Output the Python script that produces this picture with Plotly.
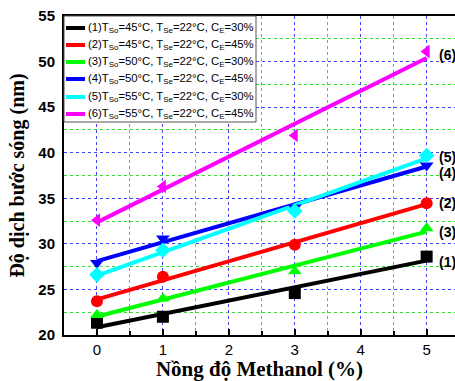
import numpy as np
import plotly.graph_objects as go

methanol = [0, 1, 3, 5]
s1 = [21.35, 22.0, 24.6, 28.6]
s2 = [23.7, 26.4, 29.9, 34.45]
s3 = [22.2, 24.0, 27.0, 31.7]
s4 = [27.9, 30.6, 34.0, 38.6]
s5 = [26.6, 29.3, 33.6, 39.7]
s6 = [32.6, 36.3, 41.9, 51.1]
series = [s1, s2, s3, s4, s5, s6]
names = [
    "(1)T<sub>So</sub>=45°C, T<sub>Se</sub>=22°C, C<sub>E</sub>=30%",
    "(2)T<sub>So</sub>=45°C, T<sub>Se</sub>=22°C, C<sub>E</sub>=45%",
    "(3)T<sub>So</sub>=50°C, T<sub>Se</sub>=22°C, C<sub>E</sub>=30%",
    "(4)T<sub>So</sub>=50°C, T<sub>Se</sub>=22°C, C<sub>E</sub>=45%",
    "(5)T<sub>So</sub>=55°C, T<sub>Se</sub>=22°C, C<sub>E</sub>=30%",
    "(6)T<sub>So</sub>=55°C, T<sub>Se</sub>=22°C, C<sub>E</sub>=45%",
]
tags = ["(1)", "(2)", "(3)", "(4)", "(5)", "(6)"]
tag_y = [28.0, 34.5, 31.3, 37.8, 39.5, 50.7]
colors = ["#000000", "#FF0000", "#00FF00", "#0000FF", "#00FFFF", "#FF00FF"]
symbols = ["square", "circle", "triangle-up", "triangle-down", "diamond", "triangle-left"]

W, H = 455, 381
ML, MR, MT, MB = 64, 0, 16, 46
PW, PH = W - ML - MR, H - MT - MB


def px(xp):
    return (xp - ML) / PW


def py(yp):
    return (H - MB - yp) / PH


fig = go.Figure()
for ys, nm, c in zip(series, names, colors):
    k, b = np.polyfit(methanol, ys, 1)
    xf = [methanol[0], methanol[-1]]
    fig.add_trace(go.Scatter(x=xf, y=[k * x + b for x in xf], mode="lines",
                             line=dict(color=c, width=4), name=nm, showlegend=False))
for ys, c, sym in zip(series, colors, symbols):
    fig.add_trace(go.Scatter(x=methanol, y=ys, mode="markers", showlegend=False,
                             marker=dict(symbol=sym, color=c, size=12)))

for t, ty in zip(tags, tag_y):
    fig.add_annotation(x=5.15, y=ty, text="<b>%s</b>" % t, showarrow=False, xanchor="left",
                       font=dict(family="Liberation Sans, Arial", size=14, color="black"))

# legend box (drawn manually)
fig.add_shape(type="rect", xref="paper", yref="paper", x0=px(64), x1=px(256), y0=py(122), y1=py(16),
              fillcolor="white", line=dict(color="#555555", width=1), layer="above")
row_y = [28, 45, 62, 79, 97, 114]
for ry, nm, c in zip(row_y, names, colors):
    fig.add_shape(type="line", xref="paper", yref="paper", x0=px(66), x1=px(85), y0=py(ry), y1=py(ry),
                  line=dict(color=c, width=4), layer="above")
    fig.add_annotation(xref="paper", yref="paper", x=px(86), y=py(ry), text=nm, showarrow=False,
                       xanchor="left", yanchor="middle",
                       font=dict(family="Liberation Sans, Arial", size=11.3, color="black"))

fig.update_layout(
    width=W, height=H,
    margin=dict(l=ML, r=MR, t=MT, b=MB),
    plot_bgcolor="white", paper_bgcolor="white",
    showlegend=False,
    xaxis=dict(range=[-0.5, 5.43], tickvals=[0, 1, 2, 3, 4, 5], showline=True, linecolor="black",
               linewidth=2, mirror=True, ticks="inside", ticklen=6, tickwidth=2, tickcolor="black",
               showgrid=True, gridcolor="#4040FF", griddash="dot", gridwidth=1, zeroline=False,
               minor=dict(dtick=0.5, showgrid=True, gridcolor="#33DD33", griddash="dot",
                          ticks="inside", ticklen=4, tickwidth=2, tickcolor="black"),
               tickfont=dict(family="Liberation Sans, Arial", size=15, color="black"),
               title=dict(text="<b>Nồng độ Methanol (%)</b>", standoff=8,
                          font=dict(family="Liberation Serif, Times New Roman", size=21, color="black"))),
    yaxis=dict(range=[20, 55], dtick=5, showline=True, linecolor="black", linewidth=2, mirror=False,
               showgrid=True, gridcolor="#4040FF", griddash="dot", gridwidth=1, zeroline=False,
               minor=dict(dtick=2.5, showgrid=True, gridcolor="#33DD33", griddash="dot"),
               tickfont=dict(family="Liberation Sans, Arial", size=15, color="black"),
               ticks="", ticklabelstandoff=4,
               title=dict(text="<b>Độ dịch bước sóng (nm)</b>", standoff=8,
                          font=dict(family="Liberation Serif, Times New Roman", size=20, color="black"))),
)
fig.update_xaxes(tickprefix="<b>", ticksuffix="</b>")
fig.update_yaxes(tickprefix="<b>", ticksuffix="</b>")
fig.write_html("out.html")
